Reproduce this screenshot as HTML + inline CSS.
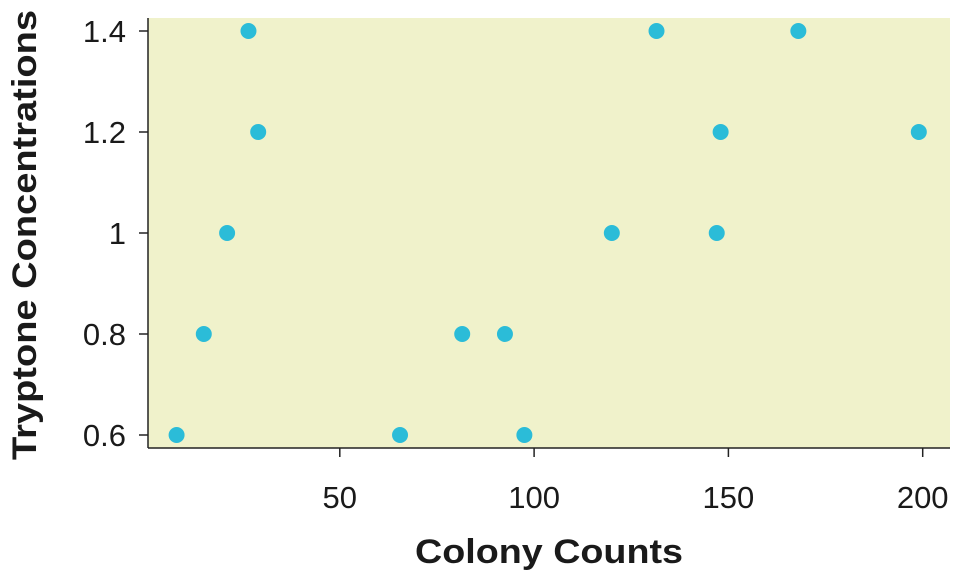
<!DOCTYPE html>
<html><head><meta charset="utf-8"><style>
body{margin:0;background:#fff;}
svg text{font-family:"Liberation Sans",sans-serif;fill:#1a1a1a;}
</style></head><body>
<svg id="chart" width="956" height="578">
<rect x="148" y="18" width="802" height="430" fill="#f0f2cb"/>
<g id="marks"></g>
<line x1="148" y1="18" x2="148" y2="448" stroke="#222" stroke-width="1.5"/>
<line x1="148" y1="448" x2="950" y2="448" stroke="#222" stroke-width="1.5"/>
<g id="axes"></g>
<text x="415" y="563" font-size="34" font-weight="bold" textLength="268" lengthAdjust="spacingAndGlyphs">Colony Counts</text>
<text transform="translate(36,460) rotate(-90)" font-size="34" font-weight="bold" textLength="450" lengthAdjust="spacingAndGlyphs">Tryptone Concentrations</text>
</svg>
<script>
const xValues=[8,15,21,26.5,29,65.5,81.5,92.5,97.5,120,131.5,147,148,168,199];
const yValues=[0.6,0.8,1.0,1.4,1.2,0.6,0.8,0.8,0.6,1.0,1.4,1.0,1.2,1.4,1.2];
const xTicks=[50,100,150,200];
const yTicks=[0.6,0.8,1,1.2,1.4];
const yTickLabels=["0.6","0.8","1","1.2","1.4"];
const NS="http://www.w3.org/2000/svg";
function xs(v){return 145.5+v*3.886;}
function ys(v){return 435-(v-0.6)*505;}
const marks=document.getElementById('marks'),axes=document.getElementById('axes');
xValues.forEach((x,i)=>{
 const c=document.createElementNS(NS,'circle');
 c.setAttribute('cx',xs(x));c.setAttribute('cy',ys(yValues[i]));c.setAttribute('r',8);c.setAttribute('fill','#2bbcd8');
 
 
 marks.appendChild(c);
});
xTicks.forEach(t=>{
 const l=document.createElementNS(NS,'line');
 l.setAttribute('x1',xs(t));l.setAttribute('x2',xs(t));l.setAttribute('y1',448);l.setAttribute('y2',457);l.setAttribute('stroke','#222');l.setAttribute('stroke-width',1.5);
 
 
 axes.appendChild(l);
 const tx=document.createElementNS(NS,'text');
 tx.setAttribute('x',xs(t));tx.setAttribute('y',508);tx.setAttribute('text-anchor','middle');tx.setAttribute('font-size',31);
 tx.textContent=t;
 
 
 axes.appendChild(tx);
});
yTicks.forEach((t,i)=>{
 const l=document.createElementNS(NS,'line');
 l.setAttribute('x1',139);l.setAttribute('x2',148);l.setAttribute('y1',ys(t));l.setAttribute('y2',ys(t));l.setAttribute('stroke','#222');l.setAttribute('stroke-width',1.5);
 
 
 axes.appendChild(l);
 const tx=document.createElementNS(NS,'text');
 tx.setAttribute('x',126);tx.setAttribute('y',ys(t)+11);tx.setAttribute('text-anchor','end');tx.setAttribute('font-size',31);
 tx.textContent=yTickLabels[i];
 
 
 axes.appendChild(tx);
});
</script>
</body></html>
